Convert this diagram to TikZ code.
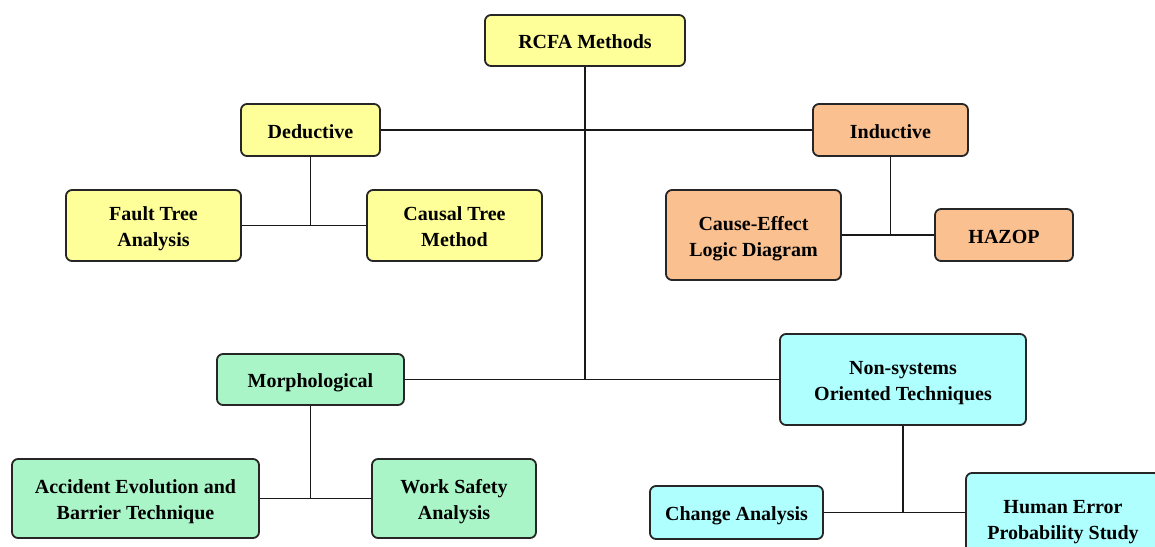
\documentclass[tikz,border=0pt]{standalone}
\usepackage{fontspec}
\setmainfont{Liberation Serif}
\definecolor{cyel}{HTML}{FFFF99}
\definecolor{corg}{HTML}{FAC090}
\definecolor{cgrn}{HTML}{AAF5C8}
\definecolor{ccyn}{HTML}{B0FFFF}
\newcommand{\boxtext}[1]{\raisebox{-3pt}[\height][\depth]{\begin{tabular}{@{}c@{}}#1\end{tabular}}}
\begin{document}
\begin{tikzpicture}[x=1pt,y=-1pt,
  box/.style={draw=black!85, line width=1.8pt, rounded corners=6pt,
    font=\fontsize{20}{26}\selectfont\bfseries, inner sep=0pt},
  ybox/.style={box, fill=cyel}, obox/.style={box, fill=corg},
  gbox/.style={box, fill=cgrn}, cbox/.style={box, fill=ccyn},
  link/.style={line width=1.8pt, draw=black!90}]
\useasboundingbox (0,0) rectangle (1155,546);
\clip (0,0) rectangle (1155,546);
\node[ybox, minimum width=200pt, minimum height=51pt] (rcfa) at (585,40.5) {\boxtext{RCFA Methods}};
\node[ybox, minimum width=139pt, minimum height=52pt] (ded) at (310.5,130) {\boxtext{Deductive}};
\node[obox, minimum width=155pt, minimum height=52pt] (ind) at (890.5,130) {\boxtext{Inductive}};
\node[ybox, minimum width=175pt, minimum height=71pt] (fta) at (153.5,225.5) {\boxtext{Fault Tree\\Analysis}};
\node[ybox, minimum width=175pt, minimum height=71pt] (ctm) at (454.5,225.5) {\boxtext{Causal Tree\\Method}};
\node[obox, minimum width=175pt, minimum height=90pt] (celd) at (753.5,235) {\boxtext{Cause-Effect\\Logic Diagram}};
\node[obox, minimum width=138pt, minimum height=52pt] (hazop) at (1004,235) {\boxtext{HAZOP}};
\node[gbox, minimum width=187pt, minimum height=51pt] (morph) at (310.5,379.5) {\boxtext{Morphological}};
\node[cbox, minimum width=246pt, minimum height=91pt] (nonsys) at (903,379.5) {\boxtext{Non-systems\\Oriented Techniques}};
\node[gbox, minimum width=247pt, minimum height=79pt] (aebt) at (135.5,498.5) {\boxtext{Accident Evolution and\\Barrier Technique}};
\node[gbox, minimum width=164pt, minimum height=79pt] (wsa) at (454,498.5) {\boxtext{Work Safety\\Analysis}};
\node[cbox, minimum width=173pt, minimum height=53pt] (chg) at (736.5,512.5) {\boxtext{Change Analysis}};
\node[cbox, minimum width=194pt, minimum height=91pt] (hep) at (1063,518.5) {\boxtext{Human Error\\Probability Study}};
% connectors
\coordinate (j1) at (585,379.5);
\draw[link] (rcfa.south) -- (j1);
\draw[link] (ded.east) -- (ind.west);
\draw[link] (morph.east) -- (nonsys.west);
\coordinate (jd) at (310.5,225.5);
\draw[link] (ded.south) -- (jd);
\draw[link] (fta.east) -- (ctm.west);
\coordinate (ji) at (890.5,235);
\draw[link] (ind.south) -- (ji);
\draw[link] (celd.east) -- (hazop.west);
\coordinate (jm) at (310.5,498.5);
\draw[link] (morph.south) -- (jm);
\draw[link] (aebt.east) -- (wsa.west);
\coordinate (jn) at (903,512.5);
\draw[link] (nonsys.south) -- (jn);
\draw[link] (chg.east) -- (chg.east -| hep.west);
\end{tikzpicture}
\end{document}
